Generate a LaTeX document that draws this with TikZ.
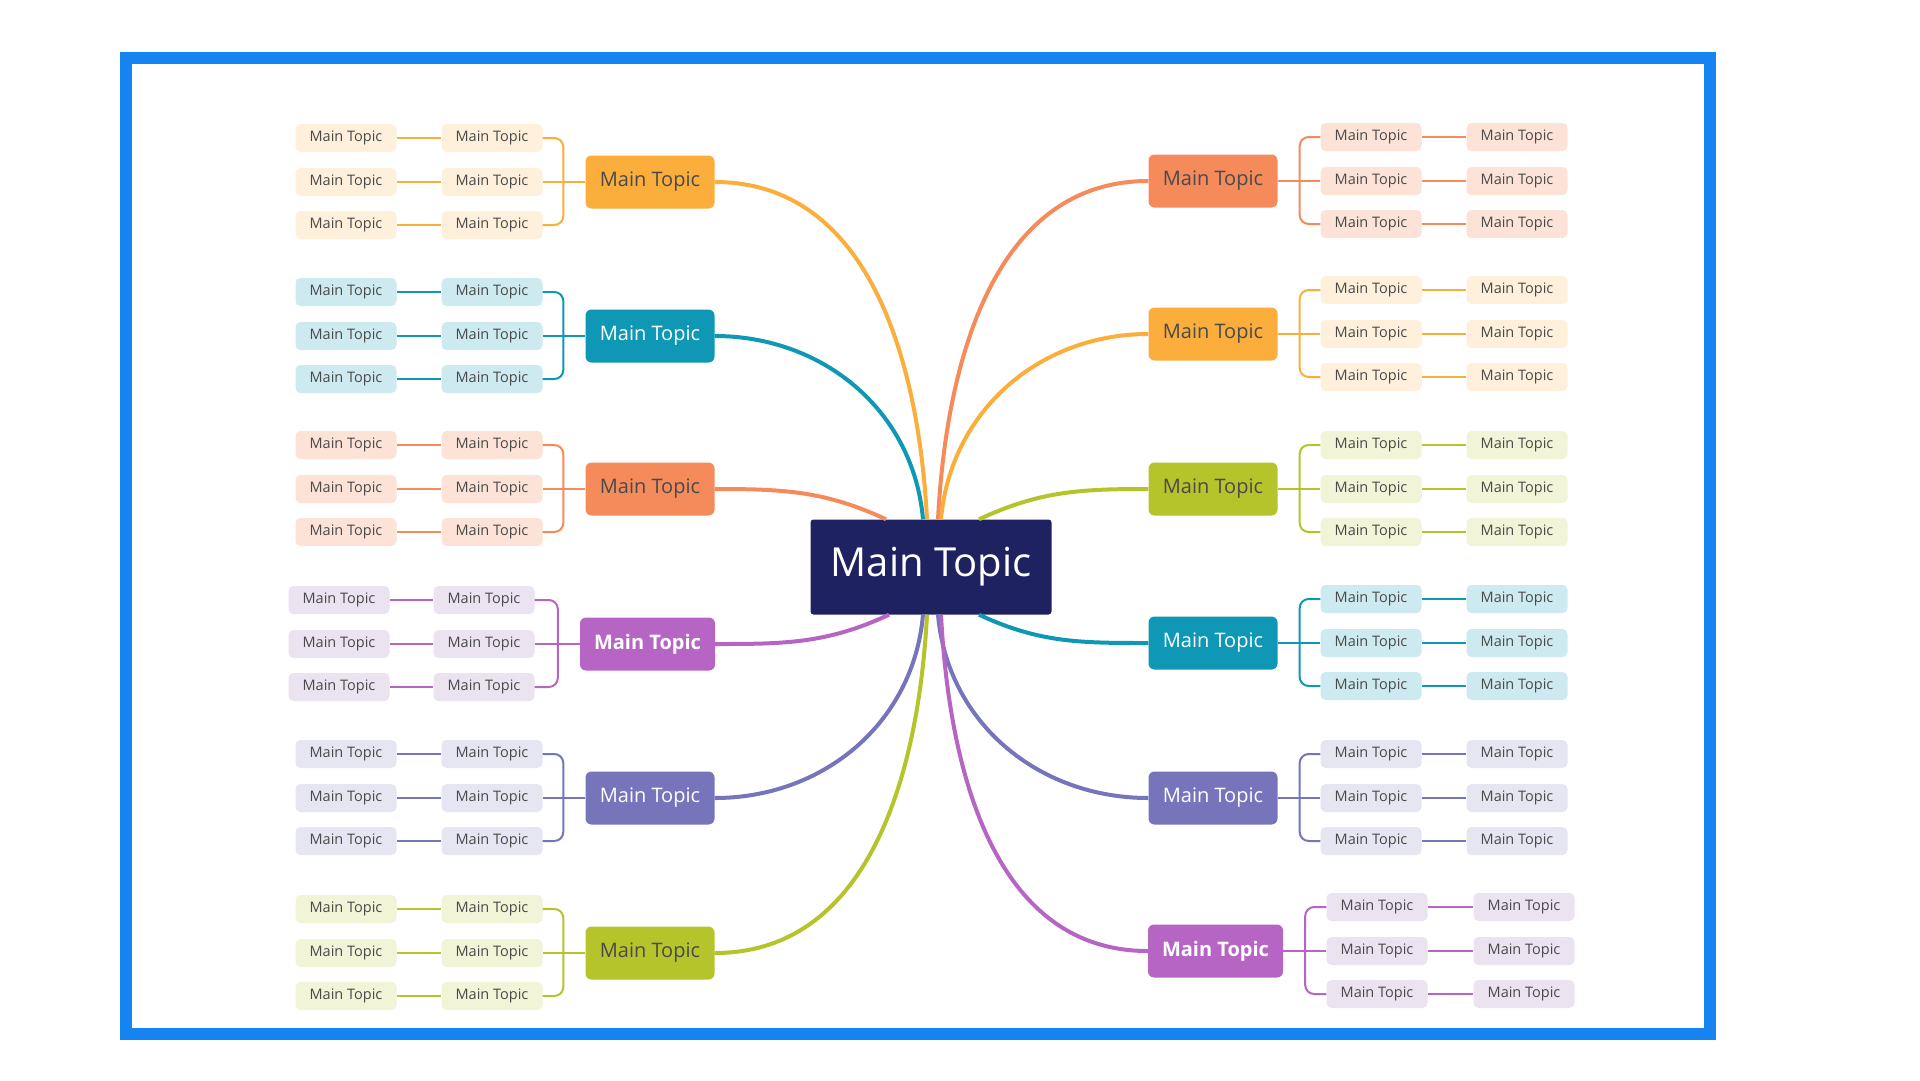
\documentclass[tikz,border=0pt]{standalone}
\usepackage{fontspec}
\setmainfont{Open Sans}
\definecolor{frame}{HTML}{1583F0}
\definecolor{cen}{HTML}{1F2260}
\definecolor{co}{HTML}{FBAE3C}\definecolor{co-l}{HTML}{FEF0DA}
\definecolor{ct}{HTML}{0E98B5}\definecolor{ct-l}{HTML}{CDEAF1}
\definecolor{cc}{HTML}{F58A5B}\definecolor{cc-l}{HTML}{FDE3D7}
\definecolor{cp}{HTML}{B765C5}\definecolor{cp-l}{HTML}{EBE3EF}
\definecolor{cs}{HTML}{7675BC}\definecolor{cs-l}{HTML}{E6E5F2}
\definecolor{cl}{HTML}{B5C42A}\definecolor{cl-l}{HTML}{F1F4D6}
\definecolor{tdark}{HTML}{4A4A4A}
\tikzset{
 leaf/.style={rounded corners=5pt,minimum width=101pt,minimum height=28pt,inner sep=0pt,text=tdark,font=\fontsize{14.5}{17}\selectfont},
 main/.style={rounded corners=6pt,minimum width=129pt,minimum height=53pt,inner sep=0pt,font=\fontsize{20}{24}\selectfont},
 m-co/.style={fill=co,text=tdark}, m-ct/.style={fill=ct,text=white},
 m-cc/.style={fill=cc,text=tdark}, m-cp/.style={fill=cp,text=white,font=\fontsize{20}{24}\selectfont\bfseries,minimum width=135pt},
 m-cs/.style={fill=cs,text=white}, m-cl/.style={fill=cl,text=tdark},
 br/.style={line width=2pt}, big/.style={line width=4pt}
}
\newcommand\lbranch[6]{% id y col xmain xinner xouter
 \node[main,m-#3] (m#1) at (#4,#2) {Main Topic};
 \foreach \k/\d in {a/-44,b/0,c/43}{
  \node[leaf,fill=#3-l] (i#1\k) at (#5,#2+\d) {Main Topic};
  \node[leaf,fill=#3-l] (o#1\k) at (#6,#2+\d) {Main Topic};
  \draw[br,#3] (o#1\k.east) -- (i#1\k.west);
 }
 \coordinate (b#1) at ([xshift=-22pt]m#1.west);
 \draw[br,#3] (m#1.west) -- (i#1b.east);
 \draw[br,#3,rounded corners=9pt] (b#1) |- (i#1a.east);
 \draw[br,#3,rounded corners=9pt] (b#1) |- (i#1c.east);
}
\newcommand\rbranch[6]{%
 \node[main,m-#3] (m#1) at (#4,#2) {Main Topic};
 \foreach \k/\d in {a/-44,b/0,c/43}{
  \node[leaf,fill=#3-l] (i#1\k) at (#5,#2+\d) {Main Topic};
  \node[leaf,fill=#3-l] (o#1\k) at (#6,#2+\d) {Main Topic};
  \draw[br,#3] (i#1\k.east) -- (o#1\k.west);
 }
 \coordinate (b#1) at ([xshift=22pt]m#1.east);
 \draw[br,#3] (m#1.east) -- (i#1b.west);
 \draw[br,#3,rounded corners=9pt] (b#1) |- (i#1a.west);
 \draw[br,#3,rounded corners=9pt] (b#1) |- (i#1c.west);
}
\begin{document}
\begin{tikzpicture}[x=1pt,y=-1pt]
\useasboundingbox (0,0) rectangle (1920,1080);
\fill[white] (0,0) rectangle (1920,1080);
\draw[line width=12pt,frame] (126,58) rectangle (1710,1034);
\node[fill=cen,rounded corners=3pt,minimum width=241pt,minimum height=95pt,inner sep=0pt,text=white,font=\fontsize{40}{48}\selectfont] (c) at (931,567) {Main Topic};
% left
\lbranch{L1}{182}{co}{650}{492}{346}
\lbranch{L2}{336}{ct}{650}{492}{346}
\lbranch{L3}{489}{cc}{650}{492}{346}
\lbranch{L4}{644}{cp}{647.5}{484}{339}
\lbranch{L5}{798}{cs}{650}{492}{346}
\lbranch{L6}{953}{cl}{650}{492}{346}
% right
\rbranch{R1}{181}{cc}{1213}{1371}{1517}
\rbranch{R2}{334}{co}{1213}{1371}{1517}
\rbranch{R3}{489}{cl}{1213}{1371}{1517}
\rbranch{R4}{643}{ct}{1213}{1371}{1517}
\rbranch{R5}{798}{cs}{1213}{1371}{1517}
\rbranch{R6}{951}{cp}{1215.5}{1377}{1524}
% central connectors
\coordinate (tL1) at ([xshift=-4pt]c.north);
\coordinate (tL2) at ([xshift=-8pt]c.north);
\coordinate (tL3) at ([xshift=-45pt]c.north);
\coordinate (tL4) at ([xshift=-42pt]c.south);
\coordinate (tL5) at ([xshift=-8pt]c.south);
\coordinate (tL6) at ([xshift=-4pt]c.south);
\coordinate (tR1) at ([xshift=7pt]c.north);
\coordinate (tR2) at ([xshift=10pt]c.north);
\coordinate (tR3) at ([xshift=48pt]c.north);
\coordinate (tR4) at ([xshift=48pt]c.south);
\coordinate (tR5) at ([xshift=7pt]c.south);
\coordinate (tR6) at ([xshift=10pt]c.south);
\begin{scope}[on background layer/.style={}]
\draw[big,co] (mL1.east) to[out=0,in=93] (tL1);
\draw[big,ct] (mL2.east) to[out=0,in=95] (tL2);
\draw[big,cc] (mL3.east) to[out=0,in=155] (tL3);
\draw[big,cp] (mL4.east) to[out=0,in=-155] (tL4);
\draw[big,cs] (mL5.east) to[out=0,in=-95] (tL5);
\draw[big,cl] (mL6.east) to[out=0,in=-93] (tL6);
\draw[big,cc] (mR1.west) to[out=180,in=87] (tR1);
\draw[big,co] (mR2.west) to[out=180,in=85] (tR2);
\draw[big,cl] (mR3.west) to[out=180,in=25] (tR3);
\draw[big,ct] (mR4.west) to[out=180,in=-25] (tR4);
\draw[big,cs] (mR5.west) to[out=180,in=-85] (tR5);
\draw[big,cp] (mR6.west) to[out=180,in=-87] (tR6);
\end{scope}
\end{tikzpicture}
\end{document}
